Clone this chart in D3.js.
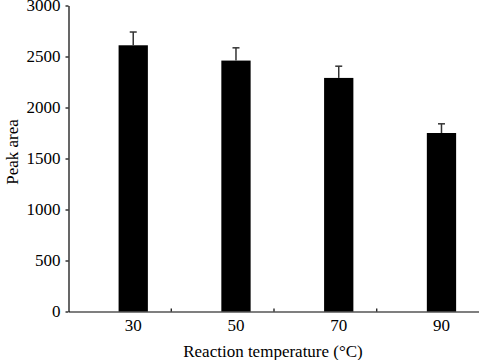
<!DOCTYPE html>
<html>
<head>
<meta charset="utf-8">
<script src="https://cdn.jsdelivr.net/npm/d3@7"></script>
<style>
  body { margin: 0; background: #fff; }
  svg { display: block; font-family: "Liberation Serif", "Times New Roman", serif; }
</style>
</head>
<body>
<div id="chart"></div>
<script>
const temperatures = ["30", "50", "70", "90"];
const peakArea = [2610, 2460, 2290, 1750];
const peakErr = [130, 125, 115, 90];
const yTicks = [0, 500, 1000, 1500, 2000, 2500, 3000];

(function () {
  const W = 479, H = 360;
  const left = 68.5, right = 479.5, top = 5.5, bottom = 311.5;

  const svg = d3.select("#chart").append("svg")
    .attr("width", W).attr("height", H);

  const x = d3.scaleBand().domain(temperatures).range([left, right]).padding(0);
  const y = d3.scaleLinear().domain([0, 3000]).range([bottom, top]);

  const bw = x.bandwidth();
  const barW = bw * 0.285;
  const centre = (d) => x(d) + bw * 0.63;

  const data = temperatures.map((t, i) => ({ t, v: peakArea[i], e: peakErr[i] }));

  // bars
  svg.selectAll(".bar")
    .data(data)
    .join("rect")
    .attr("class", "bar")
    .attr("x", (d) => centre(d.t) - barW / 2)
    .attr("y", (d) => y(d.v))
    .attr("width", barW)
    .attr("height", (d) => y(0) - y(d.v))
    .attr("fill", "#000");

  // error bars (upper only)
  const err = svg.selectAll(".err").data(data).join("g").attr("class", "err")
    .attr("stroke", "#333").attr("stroke-width", 1.5);
  err.append("line")
    .attr("x1", (d) => centre(d.t)).attr("x2", (d) => centre(d.t))
    .attr("y1", (d) => y(d.v)).attr("y2", (d) => y(d.v + d.e));
  err.append("line")
    .attr("x1", (d) => centre(d.t) - 3.5).attr("x2", (d) => centre(d.t) + 3.5)
    .attr("y1", (d) => y(d.v + d.e)).attr("y2", (d) => y(d.v + d.e));

  // y axis
  const yAxis = svg.append("g")
    .attr("transform", `translate(${left},0)`)
    .call(d3.axisLeft(y).tickValues(yTicks).tickFormat(d3.format("d"))
      .tickSize(3).tickSizeOuter(0).tickPadding(5));
  yAxis.selectAll("text").attr("font-size", "17px").attr("fill", "#000")
    .attr("font-family", "Liberation Serif, serif");
  yAxis.selectAll("path, line").attr("stroke", "#000").attr("stroke-width", 1.2);

  // x axis: labels under bars, ticks at category boundaries
  const xAxis = svg.append("g")
    .attr("transform", `translate(0,${bottom})`)
    .call(d3.axisBottom(x).tickSize(0).tickSizeOuter(0).tickPadding(7));
  xAxis.selectAll(".tick text")
    .attr("dx", bw * 0.13)
    .attr("font-size", "17px").attr("fill", "#000")
    .attr("font-family", "Liberation Serif, serif");
  xAxis.select("path").attr("stroke", "#000").attr("stroke-width", 1.2);
  xAxis.selectAll(".bound")
    .data(temperatures.slice(1))
    .join("line")
    .attr("class", "bound")
    .attr("x1", (d) => x(d)).attr("x2", (d) => x(d))
    .attr("y1", 0).attr("y2", -3)
    .attr("stroke", "#000").attr("stroke-width", 1.2);

  // axis titles
  svg.append("text")
    .attr("x", 273).attr("y", 357)
    .attr("text-anchor", "middle")
    .attr("font-size", "17px")
    .text("Reaction temperature (°C)");

  svg.append("text")
    .attr("transform", "translate(18,152) rotate(-90)")
    .attr("text-anchor", "middle")
    .attr("font-size", "17px")
    .text("Peak area");
})();
</script>
</body>
</html>
